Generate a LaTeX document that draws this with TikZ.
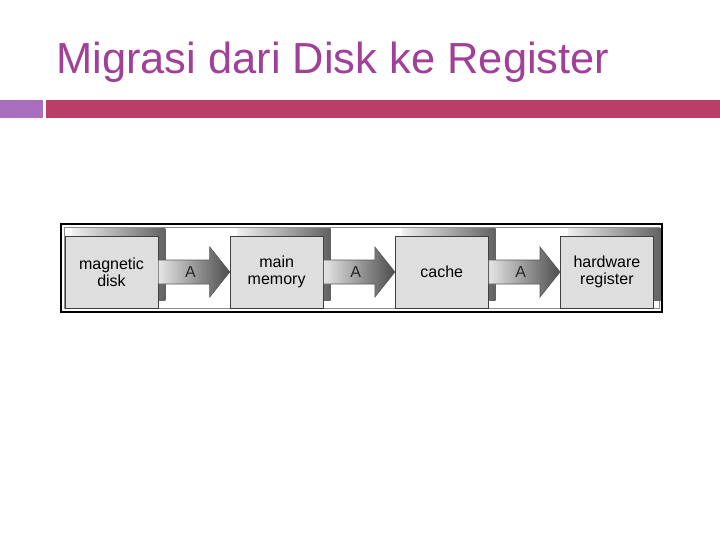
\documentclass[tikz,border=0pt]{standalone}
\usepackage{fontspec}
\setmainfont{Liberation Sans}
\usetikzlibrary{positioning, calc, shadows}
\definecolor{titlepurple}{RGB}{160,64,152}
\definecolor{barred}{RGB}{185,62,104}
\definecolor{barlilac}{RGB}{170,110,190}

% one migration arrow between two storage levels
\newcommand{\migarrow}[2]{%
  \shade[arrowbody] ($(#1.east)+(0,9pt)$) -- ($(#2.west)+(-15pt,9pt)$)
    -- ($(#2.west)+(-15pt,18.75pt)$) -- (#2.west) -- ($(#2.west)+(-15pt,-18.75pt)$)
    -- ($(#2.west)+(-15pt,-9pt)$) -- ($(#1.east)+(0,-9pt)$) -- cycle;
  \node[arrowlabel] at ($(#1.east)!0.45!(#2.west)$) {A};}

\begin{document}
\begin{tikzpicture}[
    x=0.75pt, y=-0.75pt,
    node distance=53.5pt,
    level/.style={rectangle, draw=black!75, line width=0.6pt, fill=black!13,
        minimum width=69.75pt, minimum height=54pt, inner sep=0pt, align=center,
        font=\fontsize{12}{12.75}\selectfont,
        general shadow={shadow xshift=5.6pt, shadow yshift=5.6pt, left color=black!6, right color=black!62}},
    arrowbody/.style={left color=black!10, right color=black!70, draw=black!65, line width=0.5pt},
    arrowlabel/.style={font=\fontsize{12}{12}\selectfont, text=black!85},
]
    \useasboundingbox (0,0) rectangle (720,540);

    % Title and header bar
    \node[anchor=base west, text=titlepurple, font=\fontsize{32.6}{38}\selectfont, inner sep=0pt] (title) at (56,73) {Migrasi dari Disk ke Register};
    \fill[barlilac] (0,100) rectangle (42.5,118);
    \fill[barred] (46,100) rectangle (720,118);

    % Frame round the hierarchy
    \draw[black, line width=1.5pt] (61,223.5) rectangle (662,312);
    \draw[black!45, line width=0.75pt] (64.5,227) rectangle (659.5,308.5);

    % Storage levels
    \node[level] (disk) at (111.5,272) {magnetic\\disk};
    \node[level, right=of disk] (memory) {main\\memory};
    \node[level, right=of memory] (cache) {cache};
    \node[level, right=of cache] (register) {hardware\\register};

    % Migration arrows
    \migarrow{disk}{memory}
    \migarrow{memory}{cache}
    \migarrow{cache}{register}
\end{tikzpicture}
\end{document}
